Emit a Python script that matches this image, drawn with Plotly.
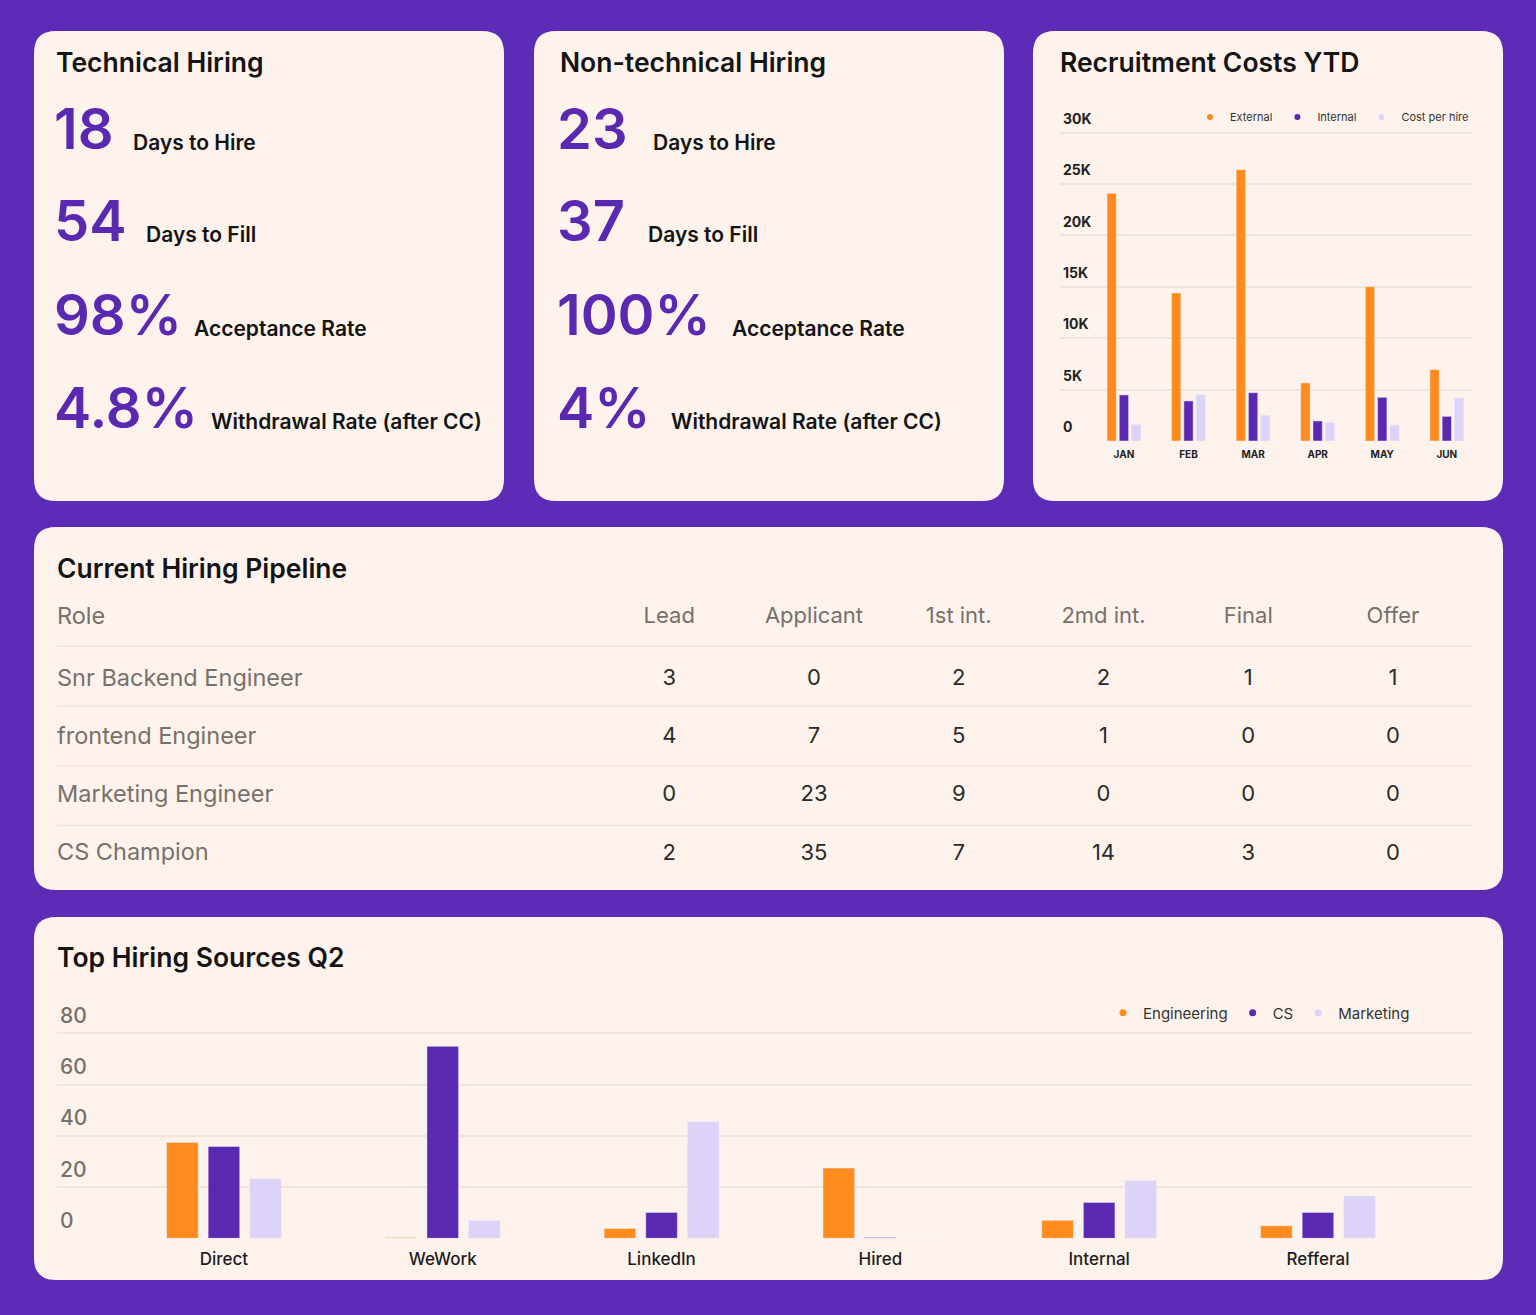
import plotly.graph_objects as go

W, H = 1536, 1315

BG = '#5E2BB6'
CARD = '#FDF3EC'
ORANGE = '#FF8A1E'
PURPLE = '#5B28B2'
LAVENDER = '#DDD3F7'
GRID = '#F2E4D9'
FONT = 'Inter'

# --- KPI cards ---
tech_values = ['18', '54', '98%', '4.8%']
nontech_values = ['23', '37', '100%', '4%']
kpi_labels = ['Days to Hire', 'Days to Fill', 'Acceptance Rate', 'Withdrawal Rate (after CC)']

# --- Recruitment costs YTD ---
months = ['JAN', 'FEB', 'MAR', 'APR', 'MAY', 'JUN']
cost_external = [24100, 14400, 26400, 5650, 15000, 6950]
cost_internal = [4480, 3900, 4700, 1950, 4250, 2400]
cost_per_hire = [1600, 4500, 2500, 1800, 1550, 4200]
cost_ticks = [0, 5000, 10000, 15000, 20000, 25000, 30000]
cost_tick_labels = ['0', '5K', '10K', '15K', '20K', '25K', '30K']

# --- Current hiring pipeline ---
stages = ['Lead', 'Applicant', '1st int.', '2md int.', 'Final', 'Offer']
roles = ['Snr Backend Engineer', 'frontend Engineer', 'Marketing Engineer', 'CS Champion']
pipeline = [
    [3, 0, 2, 2, 1, 1],
    [4, 7, 5, 1, 0, 0],
    [0, 23, 9, 0, 0, 0],
    [2, 35, 7, 14, 3, 0],
]

# --- Top hiring sources Q2 ---
sources = ['Direct', 'WeWork', 'LinkedIn', 'Hired', 'Internal', 'Refferal']
src_engineering = [37.4, 0.3, 3.8, 27.4, 7.0, 4.9]
src_cs = [35.8, 74.9, 10.1, 0.3, 14.0, 10.1]
src_marketing = [23.2, 6.9, 45.5, 0, 22.6, 16.5]
src_ticks = [0, 20, 40, 60, 80]


def px(x):
    return x / W


def py(y):
    return 1 - y / H


def rrect(x0, y0, x1, y1, r=22):
    X, Y = px, py
    p = (f"M {X(x0 + r)},{Y(y0)} L {X(x1 - r)},{Y(y0)} "
         f"Q {X(x1)},{Y(y0)} {X(x1)},{Y(y0 + r)} L {X(x1)},{Y(y1 - r)} "
         f"Q {X(x1)},{Y(y1)} {X(x1 - r)},{Y(y1)} L {X(x0 + r)},{Y(y1)} "
         f"Q {X(x0)},{Y(y1)} {X(x0)},{Y(y1 - r)} L {X(x0)},{Y(y0 + r)} "
         f"Q {X(x0)},{Y(y0)} {X(x0 + r)},{Y(y0)} Z")
    return dict(type='path', path=p, xref='paper', yref='paper',
                fillcolor=CARD, line=dict(width=0), layer='below')


fig = go.Figure()

# costs chart
for name, vals, col in [('External', cost_external, ORANGE),
                        ('Internal', cost_internal, PURPLE),
                        ('Cost per hire', cost_per_hire, LAVENDER)]:
    fig.add_trace(go.Bar(x=list(range(len(months))), y=vals, marker_color=col,
                         showlegend=False, xaxis='x', yaxis='y'))
    fig.add_trace(go.Scatter(x=[None], y=[None], mode='markers', name=name,
                             marker=dict(color=col, size=6), legend='legend',
                             xaxis='x', yaxis='y'))

# sources chart
for name, vals, col in [('Engineering', src_engineering, ORANGE),
                        ('CS', src_cs, PURPLE),
                        ('Marketing', src_marketing, LAVENDER)]:
    fig.add_trace(go.Bar(x=list(range(len(sources))), y=vals, marker_color=col,
                         showlegend=False, xaxis='x2', yaxis='y2'))
    fig.add_trace(go.Scatter(x=[None], y=[None], mode='markers', name=name,
                             marker=dict(color=col, size=7), legend='legend2',
                             xaxis='x2', yaxis='y2'))

# pipeline table as text on its own axes
TABLE_LEFT = -4.23
fig.add_trace(go.Scatter(
    x=list(range(len(stages))), y=[-1.07] * len(stages), text=stages,
    mode='text', textfont=dict(family=FONT, size=22, color='#77706B'),
    showlegend=False, xaxis='x3', yaxis='y3', hoverinfo='skip'))
fig.add_trace(go.Scatter(
    x=[TABLE_LEFT] * (len(roles) + 1), y=[-1.07] + list(range(len(roles))),
    text=['Role'] + roles, mode='text', textposition='middle right',
    textfont=dict(family=FONT, size=23.5, color='#77706B'),
    showlegend=False, xaxis='x3', yaxis='y3', hoverinfo='skip'))
cx, cy, ct = [], [], []
for r, row in enumerate(pipeline):
    for c, v in enumerate(row):
        cx.append(c)
        cy.append(r)
        ct.append(str(v))
fig.add_trace(go.Scatter(
    x=cx, y=cy, text=ct, mode='text',
    textfont=dict(family=FONT, size=22, color='#2A2A2A'),
    showlegend=False, xaxis='x3', yaxis='y3', hoverinfo='skip'))

shapes = [
    rrect(34, 31, 504, 501),
    rrect(534, 31, 1004, 501),
    rrect(1033, 31, 1503, 501),
    rrect(34, 527, 1503, 890),
    rrect(34, 917, 1503, 1280),
]
for b in [-0.58, 0.45, 1.48, 2.51]:
    shapes.append(dict(type='line', xref='x3', yref='y3', x0=TABLE_LEFT, x1=5.55,
                       y0=b, y1=b, line=dict(color=GRID, width=1.5)))

annotations = []


def text(x, y, s, size, color='#141414', weight=600, xanchor='left'):
    annotations.append(dict(x=px(x), y=py(y), xref='paper', yref='paper', text=s,
                            showarrow=False, xanchor=xanchor, yanchor='middle',
                            font=dict(family=FONT, size=size, color=color, weight=weight)))


text(54, 62, 'Technical Hiring', 26.5)
text(558, 62, 'Non-technical Hiring', 26.5)
text(1058, 62, 'Recruitment Costs YTD', 26.5)
text(55, 568, 'Current Hiring Pipeline', 26.5)
text(55, 957, 'Top Hiring Sources Q2', 26.5)

kpi_y = [129, 221, 315, 408]
tech_label_x = [131, 144, 192, 209]
nontech_label_x = [651, 646, 730, 669]
for i in range(4):
    text(52, kpi_y[i], tech_values[i], 56, PURPLE, 600)
    text(tech_label_x[i], kpi_y[i] + 13, kpi_labels[i], 21)
    text(555, kpi_y[i], nontech_values[i], 56, PURPLE, 600)
    text(nontech_label_x[i], kpi_y[i] + 13, kpi_labels[i], 21)

# y ranges are stretched above the top gridline so its label stays inside the domain
cost_top_px = 108
cost_max = 30000 * (441 - cost_top_px) / (441 - 132.7)
src_top_px = 1000
src_max = 80 * (1238.3 - src_top_px) / (1238.3 - 1033.3)

fig.update_layout(
    width=W, height=H, margin=dict(l=0, r=0, t=0, b=0),
    paper_bgcolor=BG, plot_bgcolor='rgba(0,0,0,0)',
    font=dict(family=FONT),
    barmode='group', bargap=0.43, bargroupgap=0.24,
    shapes=shapes, annotations=annotations,
    xaxis=dict(domain=[px(1060), px(1472)], range=[-0.99, 5.39], anchor='y',
               tickvals=list(range(len(months))), ticktext=months,
               showgrid=False, zeroline=False, showline=False, ticks='',
               ticklabelstandoff=6,
               tickfont=dict(family=FONT, size=10, color='#222', weight=700)),
    yaxis=dict(domain=[py(441), py(cost_top_px)], range=[0, cost_max], anchor='x',
               tickvals=cost_ticks, ticktext=cost_tick_labels,
               ticklabelposition='inside top', ticklabelshift=-4,
               gridcolor=GRID, gridwidth=1.5, zeroline=False, showline=False,
               tickfont=dict(family=FONT, size=14, color='#222', weight=700)),
    xaxis2=dict(domain=[px(57), px(1472)], range=[-0.763, 5.704], anchor='y2',
                tickvals=list(range(len(sources))), ticktext=sources,
                showgrid=False, zeroline=False, showline=False, ticks='',
                ticklabelstandoff=9,
                tickfont=dict(family=FONT, size=17, color='#1E1E1E', weight=500)),
    yaxis2=dict(domain=[py(1238.3), py(src_top_px)], range=[0, src_max], anchor='x2',
                tickvals=src_ticks, ticklabelposition='inside top', ticklabelshift=-3,
                gridcolor=GRID, gridwidth=1.5, zeroline=False, showline=False,
                tickfont=dict(family=FONT, size=21, color='#77706B', weight=500)),
    xaxis3=dict(domain=[px(57), px(1472)], range=[TABLE_LEFT, 5.546], anchor='y3',
                visible=False),
    yaxis3=dict(domain=[py(883), py(583)], range=[3.5, -1.672], anchor='x3',
                visible=False),
    legend=dict(orientation='h', x=px(1474), xanchor='right', y=py(117),
                yanchor='middle', bgcolor='rgba(0,0,0,0)', itemwidth=30,
                font=dict(family=FONT, size=11, color='#333'), tracegroupgap=0),
    legend2=dict(orientation='h', x=px(1415), xanchor='right', y=py(1013),
                 yanchor='middle', bgcolor='rgba(0,0,0,0)', itemwidth=30,
                 font=dict(family=FONT, size=15, color='#333')),
)

fig.write_html('out.html', config={'displayModeBar': False},
               post_script="document.body.style.margin='0px';")
